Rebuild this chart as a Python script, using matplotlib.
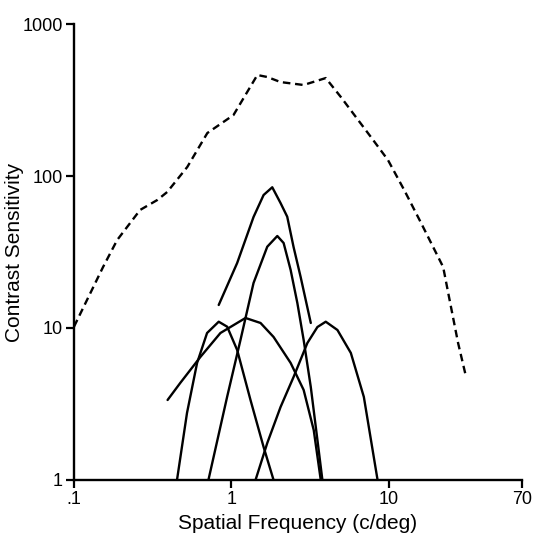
import matplotlib.pyplot as plt

# envelope (dashed)
env_f = [0.1, 0.153, 0.188, 0.263, 0.338, 0.391, 0.524, 0.703, 1.03, 1.46, 1.69,
         2.05, 2.87, 3.97, 4.95, 7.68, 9.86, 12.5, 16.0, 22.1, 23.8, 27.5, 30.9]
env_s = [10.2, 25.2, 37.9, 59.8, 69.5, 78.5, 114.6, 191.8, 251.8, 461.8, 448,
         415, 397, 441, 331, 180.6, 127.4, 80.9, 49.1, 25.2, 17.0, 7.96, 4.76]

# channel curves (solid)
a_f = [0.830, 1.087, 1.381, 1.60, 1.816, 2.05, 2.26, 2.48, 2.75, 3.19]
a_s = [14.17, 26.77, 53.74, 74.99, 84.3, 66.4, 54.0, 34.1, 21.66, 10.79]

b_f = [0.714, 0.939, 1.141, 1.381, 1.688, 1.955, 2.144, 2.376, 2.621, 2.874, 3.19, 3.515, 3.78]
b_s = [1.0, 3.53, 8.34, 19.77, 34.26, 40.3, 36.25, 24.08, 14.6, 8.34, 4.09, 1.833, 1.0]

c_f = [0.451, 0.522, 0.605, 0.700, 0.830, 0.939, 1.087, 1.321, 1.60, 1.851]
c_s = [1.0, 2.76, 5.89, 9.27, 11.0, 10.2, 7.17, 3.36, 1.648, 1.0]

d_f = [0.393, 0.473, 0.635, 0.851, 1.228, 1.53, 1.851, 2.376, 2.874, 3.33, 3.69]
d_s = [3.36, 4.35, 6.45, 9.27, 11.64, 10.79, 8.73, 5.89, 3.91, 2.13, 1.0]

e_f = [1.422, 1.688, 2.05, 2.48, 3.035, 3.515, 3.97, 4.71, 5.73, 6.93, 8.47]
e_s = [1.0, 1.75, 3.02, 4.76, 7.97, 10.15, 11.0, 9.70, 6.85, 3.52, 1.0]

xticks = [0.1, 1, 10, 70]
xtick_labels = ['.1', '1', '10', '70']
yticks = [1, 10, 100, 1000]
ytick_labels = ['1', '10', '100', '1000']

plt.rcParams['font.family'] = ['Liberation Sans', 'DejaVu Sans']

fig = plt.figure(figsize=(5.35, 5.36), dpi=100)
ax = fig.add_axes([0.1383, 0.1045, 0.8374, 0.8507])

ax.plot(env_f, env_s, color='black', lw=1.7, linestyle=(0, (3.2, 2.0)))
for f, s in [(a_f, a_s), (b_f, b_s), (c_f, c_s), (d_f, d_s), (e_f, e_s)]:
    ax.plot(f, s, color='black', lw=1.7, solid_capstyle='round')

ax.set_xscale('log')
ax.set_yscale('log')
ax.set_xlim(0.1, 70)
ax.set_ylim(1, 1000)
ax.set_xticks(xticks)
ax.set_xticklabels(xtick_labels)
ax.set_yticks(yticks)
ax.set_yticklabels(ytick_labels)
ax.minorticks_off()

for side in ['top', 'right']:
    ax.spines[side].set_visible(False)
for side in ['left', 'bottom']:
    ax.spines[side].set_linewidth(1.7)
ax.tick_params(direction='out', length=6, width=1.6, labelsize=13, pad=2)

ax.set_xlabel('Spatial Frequency (c/deg)', fontsize=15)
ax.set_ylabel('Contrast Sensitivity', fontsize=15)
ax.xaxis.set_label_coords(0.5, -0.075)
ax.yaxis.set_label_coords(-0.112, 0.5)

fig.savefig('out.png', dpi=100)
